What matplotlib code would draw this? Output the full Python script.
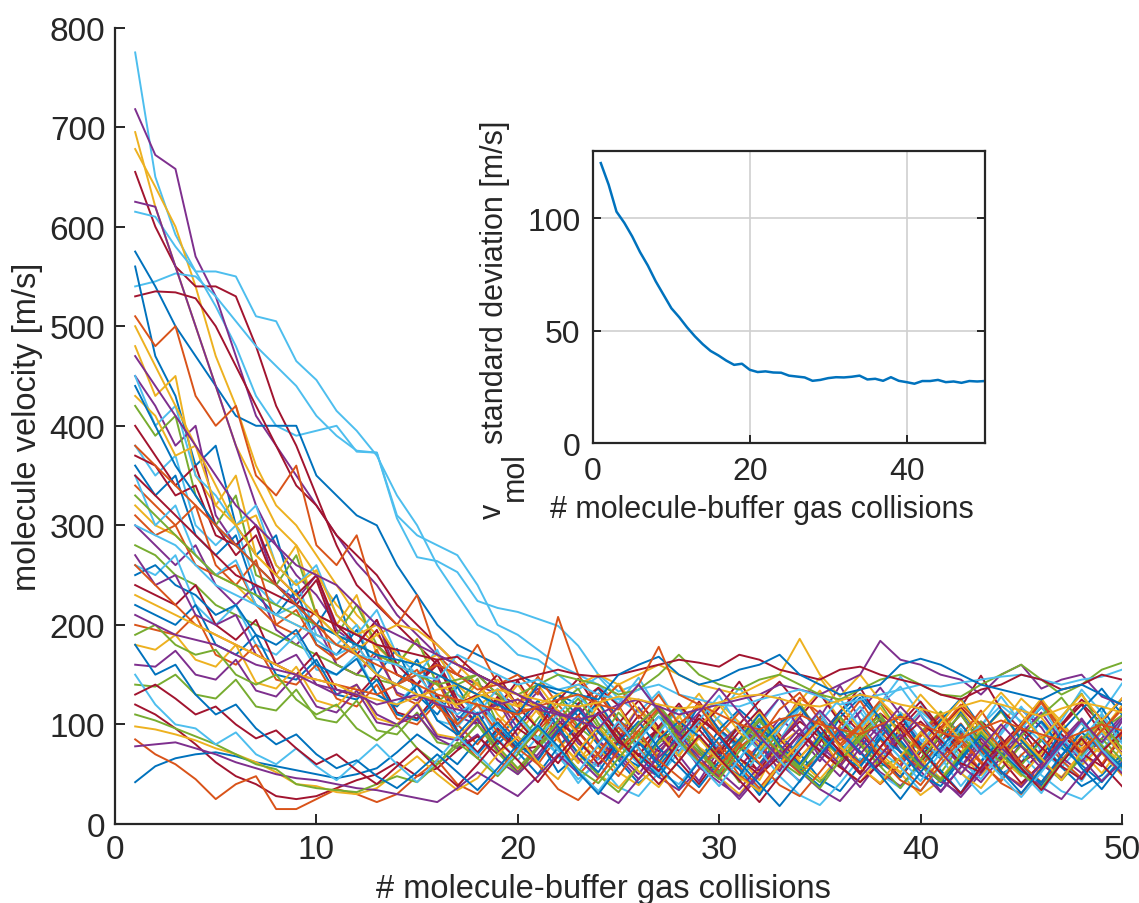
import numpy as np
import matplotlib
matplotlib.use("Agg")
import matplotlib.pyplot as plt

plt.rcParams['font.family'] = ['Liberation Sans', 'DejaVu Sans']

# collision number
collisions = list(range(1, 51))

# velocity trajectories of single molecules [m/s]
trajectories = [
    [775,650,592,555,520,480,430,400,390,395,400,374,373,307,268,264,253,224,217,213, 206,199,179,150,133,141,112,97,121,104,82,99,127,95,73,88,113,86,67,81,106,93,71,90,117,101,76,61,80,104],
    [718,672,658,570,530,470,410,380,350,320,290,262,240,210,190,170,160,150,130,120, 136,104,88,112,86,69,95,118,101,74,57,80,106,89,63,91,113,137,110,81,69,90,76,55,81,103,85,63,86,109],
    [695,620,560,500,440,380,340,300,280,250,220,200,178,160,150,140,130,118,134,102, 86,110,83,66,91,117,95,69,96,122,102,79,55,78,104,88,62,85,112,97,72,50,71,99,126,107,81,59,79,62],
    [678,640,600,540,470,420,360,320,300,270,240,210,190,170,160,150,140,120,100,126, 96,74,99,121,90,64,83,107,131,102,80,61,84,111,134,105,83,63,88,114,97,72,49,70,97,124,103,76,93,119],
    [655,600,560,540,540,530,480,420,380,330,280,240,220,200,180,160,150,140,118,144, 112,90,109,131,102,79,96,73,95,117,143,112,90,67,88,113,92,68,47,72,94,117,96,73,51,74,100,125,106,83],
    [615,610,580,555,555,550,510,505,465,446,415,395,370,330,300,260,230,200,190,170, 165,150,135,148,126,112,133,101,87,108,137,111,84,116,97,70,103,121,148,122,93,77,98,128,101,83,104,135,112,141],
    [540,545,553,550,530,505,480,460,440,410,390,375,373,310,290,280,270,240,200,190, 175,160,150,140,121,147,114,95,117,93,75,98,79,55,87,107,89,61,93,113,96,67,99,119,103,73,57,80,111,83],
    [575,540,500,470,440,410,400,400,400,350,330,310,300,260,230,200,180,170,160,150, 140,130,120,136,105,87,108,92,63,95,115,97,67,53,73,107,127,103,73,59,81,113,87,69,97,117,99,69,103,125],
    [625,620,560,500,440,380,320,280,250,230,200,190,180,160,150,160,150,140,130,112, 133,111,81,65,85,117,87,69,43,75,97,83,53,87,107,139,105,87,57,89,109,91,61,95,115,97,67,51,71,103],
    [530,535,534,528,500,460,420,380,340,320,290,270,250,220,200,180,160,150,140,130, 117,89,121,137,119,87,73,93,123,95,79,51,83,103,87,59,91,111,95,65,97,117,149,115,95,67,99,121,101,71],
    [560,470,430,360,380,300,270,290,220,200,230,170,150,176,130,110,138,104,84,110, 86,52,70,98,64,41,58,83,120,95,77,60,88,71,45,33,59,92,108,80,66,94,73,50,62,85,57,38,49,70],
    [510,480,500,430,400,420,350,330,360,280,260,290,222,200,230,170,150,180,140,120, 148,120,96,131,104,87,115,92,70,58,81,66,94,127,111,84,99,76,63,88,105,79,54,68,97,122,90,73,101,86],
    [480,430,450,350,320,350,270,250,280,210,200,230,170,160,186,140,116,142,110,90, 116,84,63,77,52,39,61,88,73,47,30,54,79,66,90,58,42,67,51,29,44,72,95,68,57,40,63,84,71,49],
    [450,420,380,400,310,280,300,240,225,250,195,180,205,150,140,165,120,100,126,96, 120,95,71,58,83,62,47,34,55,80,99,76,61,43,68,90,73,52,38,60,46,27,51,75,88,64,45,70,93,82],
    [420,390,410,330,300,330,250,240,270,210,190,220,180,160,185,140,120,146,100,80, 106,130,98,81,112,90,67,82,59,71,101,86,63,49,74,97,79,58,66,92,113,88,70,55,79,61,44,67,95,109],
    [380,350,370,300,280,300,240,220,245,190,180,200,150,140,165,122,100,126,96,74, 100,68,45,61,37,28,52,40,63,81,57,34,48,29,19,41,66,50,36,59,77,52,30,46,70,49,33,25,44,66],
    [400,370,340,360,300,270,290,240,220,245,190,170,195,150,140,165,125,100,128,104, 80,112,93,70,101,124,97,78,110,89,65,54,83,107,131,102,85,68,96,118,94,79,103,87,62,74,99,120,91,71],
    [360,330,350,290,270,290,230,210,235,180,170,195,150,140,165,128,104,128,100,76, 100,131,108,79,57,84,62,91,73,50,64,97,80,55,38,71,88,62,47,76,104,126,98,69,81,103,77,59,42,66],
    [340,320,300,320,260,240,265,200,190,215,160,150,175,130,120,145,100,80,106,84, 60,88,109,82,65,94,117,86,63,48,77,92,70,51,68,99,124,93,72,56,83,101,74,52,39,61,85,69,93,115],
    [320,300,290,270,250,240,220,210,200,190,180,175,190,200,195,180,160,140,116,140, 112,85,61,93,118,84,70,97,121,90,66,44,80,95,73,57,88,110,79,60,93,115,88,66,48,71,97,73,51,78],
    [300,280,260,280,240,220,240,195,180,200,160,150,170,132,124,148,108,100,124,88, 66,95,117,84,67,45,70,99,77,53,80,103,127,95,74,58,82,106,78,61,33,57,86,63,91,112,84,66,43,62],
    [280,270,250,240,220,210,200,190,180,170,160,150,145,140,130,122,140,150,130,110, 86,119,136,101,80,61,94,117,86,70,42,73,99,122,88,67,97,121,90,74,51,80,103,72,59,84,108,131,95,76],
    [260,250,270,220,200,220,180,170,190,155,150,170,130,120,142,104,98,120,86,64, 88,70,41,66,98,77,48,72,101,80,57,31,60,85,113,79,61,88,112,85,67,38,63,92,118,86,64,43,74,97],
    [240,230,220,240,200,185,205,160,150,172,135,128,150,112,106,130,94,72,96,74, 78,104,85,60,83,109,90,63,40,68,93,115,86,61,82,113,137,104,80,62,88,110,82,65,41,60,90,71,58,88],
    [220,210,200,220,180,170,190,150,145,165,130,125,145,110,104,126,92,70,94,72, 50,77,100,123,91,69,47,79,103,70,55,29,59,84,107,80,62,87,110,77,54,31,63,85,60,39,68,94,117,86],
    [200,195,190,210,170,160,180,145,140,160,126,118,140,106,100,122,88,66,90,114, 116,88,49,71,97,76,53,79,103,80,58,36,61,81,104,78,57,40,60,90,111,82,61,43,69,88,64,46,72,93],
    [180,175,190,165,158,180,142,136,158,124,118,140,106,100,122,90,86,108,76,54, 78,102,77,50,36,59,84,109,77,64,85,112,88,63,45,68,93,117,89,65,46,70,92,114,83,62,47,72,95,70],
    [160,158,174,150,145,165,134,128,150,118,112,134,102,98,120,88,84,106,74,52, 76,100,119,93,70,50,77,95,72,53,35,58,83,107,79,60,37,64,86,110,80,59,42,67,89,60,46,69,93,71],
    [140,138,150,130,126,145,118,114,135,106,102,124,94,90,112,82,78,100,72,50, 77,96,71,49,32,58,81,99,76,52,83,106,79,58,42,63,89,110,82,61,45,67,92,113,86,65,44,69,86,64],
    [450,400,420,350,330,300,320,260,240,260,210,190,215,170,150,175,130,110,136,108, 84,111,129,107,82,60,91,116,87,62,45,70,95,117,89,71,96,120,138,110,87,64,45,72,96,118,87,66,92,70],
    [370,360,330,340,290,280,300,250,230,250,200,180,205,160,140,160,120,130,150,118, 96,124,146,115,92,68,98,121,95,71,100,124,143,118,92,74,52,77,101,123,96,72,54,79,101,125,97,79,103,126],
    [250,260,240,230,210,220,190,180,195,160,150,166,130,118,140,104,90,112,80,100, 124,98,71,52,82,103,76,58,37,63,85,110,79,60,88,112,131,106,84,60,42,66,91,115,84,62,93,115,136,110],
    [310,290,300,260,250,260,220,200,215,180,165,180,150,140,155,118,100,120,92,72, 94,114,92,69,48,76,53,27,55,77,49,33,58,82,106,77,61,85,57,39,65,88,114,84,60,42,64,88,60,90],
    [430,410,370,380,320,300,310,260,240,255,210,190,200,170,160,170,140,130,145,118, 140,113,90,119,141,114,92,68,97,120,92,75,99,123,147,119,95,71,52,77,101,125,95,72,100,126,98,80,103,75],
    [270,240,250,210,200,210,170,160,170,140,130,140,110,100,110,86,76,90,64,50, 70,95,66,46,75,99,120,90,67,46,25,49,73,96,68,48,77,100,72,53,32,57,80,53,37,60,84,106,78,56],
    [190,200,180,170,175,150,140,150,125,110,120,96,84,100,76,60,78,100,78,56, 78,104,126,97,73,101,119,95,72,51,80,104,77,56,85,108,81,58,36,64,89,110,80,62,88,109,127,101,79,57],
    [350,300,320,270,250,265,220,210,220,185,170,180,150,140,150,124,110,125,100,80, 100,74,52,80,103,75,51,79,104,129,97,73,49,78,102,126,97,74,57,33,58,80,100,77,52,31,62,85,109,81],
    [120,110,96,80,62,48,40,28,25,28,36,44,50,62,48,56,74,88,70,96, 82,61,88,112,82,70,53,83,106,90,66,49,68,91,73,57,42,61,85,103,84,61,52,76,97,77,58,45,73,92],
    [42,58,66,70,72,68,62,58,54,50,46,50,56,72,90,76,60,84,102,80, 64,93,115,92,70,58,85,103,88,64,48,79,101,118,90,69,57,86,73,49,38,64,89,71,53,42,69,92,74,58],
    [85,70,60,45,25,40,48,15,15,25,35,30,22,30,48,64,40,30,52,76, 60,35,24,46,73,94,64,47,31,58,82,61,39,28,52,77,98,66,44,33,60,85,63,41,30,57,80,103,72,51],
    [98,95,90,84,76,70,62,52,40,38,32,30,36,52,68,50,34,46,70,88, 62,45,74,98,75,53,37,64,86,63,47,33,60,82,103,78,57,41,68,92,70,51,36,62,87,66,44,73,94,70],
    [78,80,82,76,70,62,56,50,46,44,40,36,34,30,26,22,36,52,40,28, 48,70,51,33,21,45,67,86,57,42,28,52,74,53,35,23,47,69,90,61,43,30,55,77,56,37,25,50,73,51],
    [110,104,96,88,80,70,60,55,40,36,34,32,40,48,42,60,82,66,48,70, 97,77,55,41,66,90,113,84,61,45,73,94,72,54,36,64,85,106,79,58,43,70,92,70,50,36,63,85,103,76],
    [150,120,100,96,80,92,70,60,76,58,44,62,80,60,42,64,88,70,50,74, 99,76,53,33,59,84,108,80,60,38,66,90,64,42,70,94,118,90,66,43,72,96,70,48,27,52,78,102,75,54],
    [130,140,126,110,118,100,86,94,76,60,70,54,40,58,76,56,38,60,84,64, 42,68,92,111,86,62,40,63,89,66,44,22,48,74,98,72,50,77,102,76,51,31,57,82,56,34,61,86,60,38],
    [180,150,160,130,110,120,96,80,90,70,56,64,48,36,52,70,52,34,56,80, 99,78,52,30,57,82,59,36,63,87,62,40,18,43,69,94,72,49,25,52,76,100,77,53,31,55,83,56,35,61],
    [260,240,220,200,190,180,170,160,150,145,140,135,130,140,150,160,150,135,140,150,130,208,150,120,140,106,130,100,118,90,112,86,115,132,104,80,100,124,98,74,96,120,100,76,98,122,96,72,94,116],
    [230,220,210,200,190,180,170,160,150,145,140,130,125,120,128,135,140,130,125,118,120,130,140,150,140,150,160,150,140,135,130,140,150,186,150,128,150,124,104,130,108,84,110,132,110,86,108,130,104,126],
    [210,200,190,185,180,170,160,155,150,140,135,130,120,125,130,120,115,110,120,125,115,110,105,110,120,125,118,110,115,120,125,130,140,135,130,140,150,184,165,160,150,145,130,150,160,136,145,150,128,120],
    [330,310,290,270,250,240,230,220,210,200,190,180,170,160,150,140,145,150,140,130,140,150,145,140,130,135,150,170,150,140,135,145,150,140,130,125,135,145,150,140,130,128,140,150,160,145,130,140,155,162],
    [300,290,280,260,240,230,220,210,200,190,180,170,165,160,150,145,170,160,150,140,145,135,140,130,125,135,140,130,125,120,118,125,130,135,128,120,125,130,135,140,138,142,145,148,150,145,140,145,148,155],
    [350,330,310,290,270,250,240,230,220,210,200,190,180,175,170,165,168,150,140,145,150,155,150,148,150,155,160,165,162,158,170,165,155,150,145,155,158,150,145,140,130,125,135,140,150,145,135,140,150,145],
    [440,400,360,330,300,280,260,240,220,200,190,180,170,165,160,150,140,130,120,110,140,135,130,125,150,160,168,150,140,145,155,160,170,150,140,130,135,140,160,166,160,150,140,135,130,125,135,140,130,120],
    [380,360,340,320,300,280,260,240,220,200,180,170,160,150,140,130,125,120,115,110,118,125,130,120,115,140,178,130,120,110,100,95,105,110,100,95,90,100,108,100,92,86,96,104,96,90,84,92,100,94],
    [500,460,420,380,340,300,270,250,230,210,190,170,150,140,130,125,120,128,135,130,125,120,118,122,128,125,120,116,118,122,128,130,126,120,118,124,130,126,120,116,110,118,124,120,114,108,116,122,118,112],
    [470,440,410,380,350,320,300,280,260,250,240,220,200,190,180,170,160,150,140,130,120,112,104,96,118,140,114,90,112,136,112,88,66,90,114,92,70,94,118,96,72,50,76,100,78,56,80,104,82,106],
]

# ensemble standard deviation [m/s]
std_velocity = [124.6, 115, 103, 98, 92, 85, 79, 72, 66, 60, 56, 51.5, 47.5, 44, 41,
                39, 36.7, 34.8, 35.3, 32.6, 31.6, 31.9, 31.4, 31.3, 30, 29.6, 29.2,
                27.7, 28.1, 28.9, 29.3, 29.2, 29.5, 30, 28.3, 28.6, 27.7, 29.3, 27.7,
                27.1, 26.4, 27.6, 27.6, 28.1, 27.1, 27.4, 26.8, 27.6, 27.4, 27.6]

# MATLAB default colour order
matlab_colors = ['#0072BD', '#D95319', '#EDB120', '#7E2F8E', '#77AC30', '#4DBEEE', '#A2142F']
line_colors = ['#4DBEEE', '#7E2F8E', '#EDB120', '#EDB120', '#A2142F', '#4DBEEE', '#4DBEEE',
               '#0072BD', '#7E2F8E', '#A2142F']
for i in range(len(trajectories) - len(line_colors)):
    line_colors.append(matlab_colors[i % 7])

axis_color = '#262626'
W, H = 1139, 904

fig = plt.figure(figsize=(W / 100, H / 100), dpi=100)
ax = fig.add_axes([0.101, 0.0874, 0.884, 0.881])

for traj, c in zip(trajectories, line_colors):
    ax.plot(collisions, traj, color=c, linewidth=1.4)

ax.set_xlim(0, 50)
ax.set_ylim(0, 800)
ax.set_xticks([0, 10, 20, 30, 40, 50])
ax.set_yticks(range(0, 801, 100))
ax.spines['top'].set_visible(False)
ax.spines['right'].set_visible(False)
for s in ['left', 'bottom']:
    ax.spines[s].set_linewidth(1.6)
    ax.spines[s].set_color(axis_color)
ax.tick_params(direction='in', length=7, width=1.4, labelsize=24, colors=axis_color, pad=7)
ax.set_xlabel('# molecule-buffer gas collisions', fontsize=23.5, color=axis_color)
ax.xaxis.set_label_coords(0.485, -0.062)
ax.set_ylabel('molecule velocity [m/s]', fontsize=23.5, color=axis_color)
ax.yaxis.set_label_coords(-0.072, 0.5)

# inset with standard deviation
ax2 = fig.add_axes([0.5206, 0.5088, 0.3442, 0.3231])
ax2.plot(collisions, std_velocity, color='#0072BD', linewidth=1.8)
ax2.set_xlim(0, 50)
ax2.set_ylim(0, 130)
ax2.set_xticks([0, 20, 40])
ax2.set_yticks([0, 50, 100])
ax2.grid(True, color='#d0d0d0', linewidth=1.2)
ax2.set_axisbelow(True)
for s in ax2.spines.values():
    s.set_linewidth(1.6)
    s.set_color(axis_color)
ax2.tick_params(direction='in', length=6, width=1.4, labelsize=23, colors=axis_color,
                top=False, right=True, pad=9)
ax2.set_xlabel('# molecule-buffer gas collisions', fontsize=22, color=axis_color)
ax2.xaxis.set_label_coords(0.43, -0.175)

# inset y label: v with a large subscript "mol"
lab = dict(rotation=90, rotation_mode='anchor', ha='left', va='baseline',
           fontsize=22, color=axis_color)
fig.text(501 / W, 1 - 519 / H, 'v', **lab)
fig.text(523 / W, 1 - 501 / H, 'mol', **lab)
fig.text(503 / W, 1 - 444 / H, 'standard deviation [m/s]', **lab)

fig.savefig('out.png', dpi=100)
